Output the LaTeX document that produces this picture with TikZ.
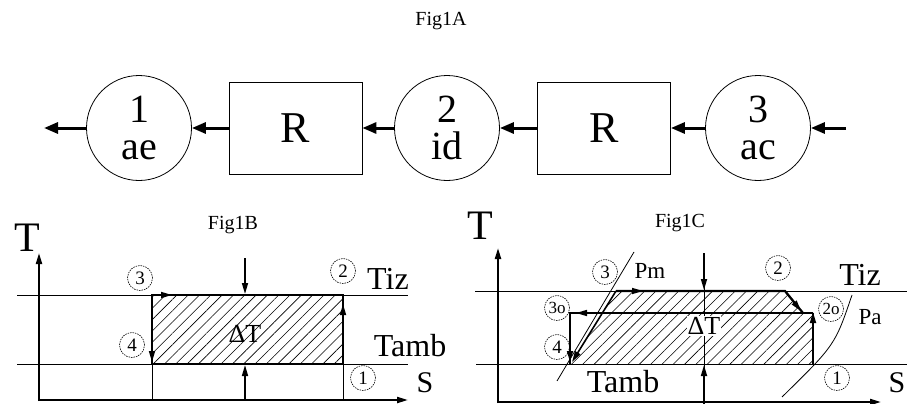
\documentclass[tikz,border=0pt]{standalone}
\usepackage{fontspec}
\setmainfont{Liberation Serif}
\usetikzlibrary{arrows.meta,patterns.meta}
\begin{document}
\begin{tikzpicture}[x=1pt,y=-1pt,
  thinl/.style={line width=0.8pt},
  thickl/.style={line width=2.2pt},
  axis/.style={-{Triangle[length=11pt,width=6pt]},line width=2pt},
  arr/.style={-{Triangle[length=11pt,width=6pt]},line width=1.6pt},
  bigc/.style={circle,draw,line width=0.8pt,minimum size=105pt,inner sep=0pt,align=center,font=\fontsize{40}{37}\selectfont},
  rbox/.style={draw,line width=0.8pt,minimum width=133pt,minimum height=92pt,font=\fontsize{44}{44}\selectfont},
  flow/.style={-{Triangle[length=14pt,width=11pt]},line width=3pt},
  lab/.style={circle,draw,dash pattern=on 1.5pt off 1pt,line width=0.6pt,minimum size=25pt,inner sep=0pt,font=\fontsize{19}{19}\selectfont},
  ttl/.style={font=\fontsize{20}{20}\selectfont},
  big/.style={font=\fontsize{32}{32}\selectfont},
  axl/.style={font=\fontsize{42}{42}\selectfont},
  sl/.style={font=\fontsize{30}{30}\selectfont},
  pl/.style={font=\fontsize{23}{23}\selectfont},
  dl/.style={font=\fontsize{26}{26}\selectfont},
  hatch/.style={pattern={Lines[angle=45,distance=8pt,line width=0.6pt]}}
]
\useasboundingbox (0,0) rectangle (907,404);

% ---------- Fig1A ----------
\node[ttl] (ta) at (441,21) {Fig1A};
\node[bigc] (c1) at (139,128) {1\\ae};
\node[rbox] (r1) at (295.5,128) {R};
\node[bigc] (c2) at (447,128) {2\\id};
\node[rbox] (r2) at (604,128) {R};
\node[bigc] (c3) at (758,128) {3\\ac};
\coordinate (out) at (44,128);
\coordinate (in) at (846,128);
\draw[flow] (c1.west) -- (out);
\draw[flow] (r1.west) -- (c1.east);
\draw[flow] (c2.west) -- (r1.east);
\draw[flow] (r2.west) -- (c2.east);
\draw[flow] (c3.west) -- (r2.east);
\draw[flow] (in) -- (c3.east);

% ---------- Fig1B ----------
\node[ttl] (tb) at (233,225) {Fig1B};
\fill[hatch] (152,295) rectangle (343,364);
\draw[thinl] (17,295) -- (408,295);
\draw[thinl] (17,364) -- (408,364);
\draw[thinl] (152,364) -- (152,400);
\draw[thinl] (343,364) -- (343,400);
\draw[thickl] (152,295) rectangle (343,364);
\draw[axis] (39,401) -- (39,253);
\draw[axis] (38,400) -- (408,400);
\draw[arr] (152,295) -- (172,295);
\draw[arr] (152,340) -- (152,362);
\draw[arr] (343,330) -- (343,304);
\draw[arr] (245,258) -- (245,294);
\draw[arr] (245,400) -- (245,365);
\node[axl] (tB) at (27,238) {T};
\node[big] (tizB) at (388,279) {Tiz};
\node[big] (tambB) at (410,346) {Tamb};
\node[sl] (sB) at (425,383) {S};
\node[dl] (dtB) at (245,334) {ΔT};
\node[lab] (b3) at (140,278) {3};
\node[lab] (b2) at (343,271) {2};
\node[lab] (b4) at (132,345) {4};
\node[lab] (b1) at (363,378) {1};

% ---------- Fig1C ----------
\node[ttl] (tc) at (680,223) {Fig1C};
\fill[hatch] (570,364) -- (616,291) -- (785,291) -- (803,313) -- (813,313) -- (813,364) -- cycle;
\draw[thinl] (475,291) -- (907,291);
\draw[thinl] (476,364) -- (907,364);
\draw[thinl] (557,381) -- (634,252);
\draw[thinl] (782,397) .. controls (835,345) .. (852,295);
\draw[thinl] (704,253) -- (704,404);
\node[dl,fill=white,inner sep=1pt] (dtC) at (704,326) {ΔT};
\draw[arr] (704,253) -- (704,290);
\draw[arr] (704,404) -- (704,365);
\draw[thickl] (813,313) -- (570,313) -- (570,364);
\draw[thickl] (616,291) -- (785,291) -- (803,313);
\draw[thickl] (813,364) -- (813,313);
\draw[arr] (616,291) -- (643,291);
\draw[arr] (592,313) -- (576,313);
\draw[arr] (570,340) -- (570,362);
\draw[arr] (616,291) -- (572,362);
\draw[arr] (785,291) -- (801,311);
\draw[arr] (813,340) -- (813,312);
\draw[axis] (498,403) -- (498,248);
\draw[axis] (497,402) -- (881,402);
\node[axl] (tC) at (480,226) {T};
\node[big] (tizC) at (860,275) {Tiz};
\node[big] (tambC) at (623,382) {Tamb};
\node[sl] (sC) at (897,383) {S};
\node[pl] (pm) at (650,271) {Pm};
\node[pl] (pa) at (870,317) {Pa};
\node[lab] (c3l) at (605,272) {3};
\node[lab] (c2l) at (778,268) {2};
\node[lab,font=\fontsize{17}{17}\selectfont] (c3o) at (557,308) {3o};
\node[lab] (c4l) at (557,347) {4};
\node[lab,font=\fontsize{17}{17}\selectfont] (c2o) at (831,309) {2o};
\node[lab] (c1l) at (837,378) {1};
\end{tikzpicture}
\end{document}
